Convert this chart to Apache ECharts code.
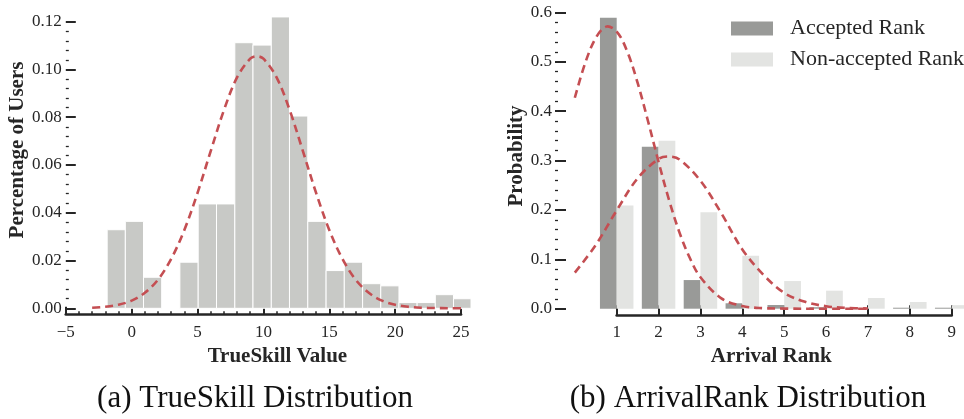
<!DOCTYPE html>
<html><head><meta charset="utf-8">
<script src="https://cdn.jsdelivr.net/npm/echarts@6/dist/echarts.min.js"></script>
<style>html,body{margin:0;padding:0;background:#fff}#c{width:964px;height:419px}</style>
</head><body><div id="c"></div>
<script>
// ---- (a) TrueSkill histogram ----
const tsEdges = [-1.86, -0.48, 0.90, 2.28, 3.66, 5.05, 6.44, 7.83, 9.21, 10.60, 11.98,
                 13.37, 14.76, 16.14, 17.53, 18.91, 20.29, 21.67, 23.05, 24.43, 25.76];
const tsShare = [0.0329, 0.0364, 0.0130, 0.0000, 0.0193, 0.0437, 0.0437, 0.1112, 0.1102, 0.1220,
                 0.0805, 0.0364, 0.0158, 0.0193, 0.0103, 0.0094, 0.0024, 0.0024, 0.0057, 0.0040];
const tsFitX = [-3, -2, -1, 0, 1, 2, 3, 4, 5, 6, 7, 8, 9, 9.5, 10, 11, 12, 13, 14, 15, 16, 17, 18, 19, 20, 21, 22, 23, 24, 25];
const tsFitY = [0.00025, 0.00064, 0.0015, 0.0032, 0.0065, 0.0120, 0.0207, 0.0328, 0.0483, 0.0658,
                0.0829, 0.0967, 0.1045, 0.1055, 0.1045, 0.0967, 0.0829, 0.0658, 0.0483, 0.0328,
                0.0207, 0.0120, 0.0065, 0.0032, 0.0015, 0.00064, 0.00025, 0.0001, 0.00003, 0.00001];
const tsTicks = [-5, 0, 5, 10, 15, 20, 25];
const shareTicks = [0, 0.02, 0.04, 0.06, 0.08, 0.10, 0.12];

// ---- (b) Arrival rank ----
const ranks = [1, 2, 3, 4, 5, 6, 7, 8, 9];
const acceptedProb = [0.589, 0.328, 0.058, 0.011, 0.0075, 0.003, 0.001, 0.002, 0.002];
const nonAcceptedProb = [0.209, 0.340, 0.195, 0.107, 0.056, 0.0365, 0.0217, 0.0136, 0.0072];
const accFitX = [0, 0.25, 0.5, 0.75, 1, 1.25, 1.5, 1.75, 2, 2.25, 2.5, 2.75, 3, 3.5, 4, 4.5, 5, 6, 7];
const accFitY = [0.427, 0.498, 0.548, 0.571, 0.561, 0.521, 0.457, 0.379, 0.297, 0.220, 0.154, 0.102,
                 0.0637, 0.021, 0.0055, 0.0011, 0.0002, 0, 0];
const nonFitX = [0, 0.5, 1, 1.5, 2, 2.25, 2.5, 3, 3.5, 4, 4.5, 5, 5.5, 6, 6.5, 7];
const nonFitY = [0.073, 0.129, 0.199, 0.264, 0.303, 0.308, 0.302, 0.259, 0.193, 0.120, 0.069, 0.032,
                 0.0139, 0.005, 0.0016, 0.0004];
const probTicks = [0, 0.1, 0.2, 0.3, 0.4, 0.5, 0.6];

const seriesNames = ['Accepted Rank', 'Non-accepted Rank'];
const captions = ['(a) TrueSkill Distribution', '(b) ArrivalRank Distribution'];

// ---- styles ----
const FONT = 'Liberation Serif';
const INK = '#262626';
const RED = '#c44e52';
const HIST = '#c8c9c6';
const DARK = '#999a98';
const LIGHT = '#e3e4e2';

const zip = (a, b) => a.map((v, i) => [v, b[i]]);
const minus = s => String(s).replace('-', '\u2212');

function axisBase() {
  return {
    axisLine: { show: true, onZero: false, lineStyle: { color: INK, width: 2.7 } },
    axisTick: { show: true, inside: true, length: 8, lineStyle: { color: INK, width: 2 } },
    axisLabel: { color: INK, fontFamily: FONT, fontSize: 17 },
    splitLine: { show: false },
    nameTextStyle: { color: INK, fontFamily: FONT, fontSize: 21, fontWeight: 'bold' }
  };
}

// dashed fitted curve drawn through the axis scales (api.coord), not clipped to the grid
function curveSeries(xi, yi, xs, ys) {
  return {
    type: 'custom', xAxisIndex: xi, yAxisIndex: yi, clip: false, z: 5, silent: true,
    data: zip(xs, ys), encode: { x: 0, y: 1 },
    renderItem: (params, api) => {
      if (params.dataIndex !== 0) return null;
      const pts = xs.map((x, i) => api.coord([x, ys[i]]));
      return { type: 'polyline', shape: { points: pts, smooth: 0.35 },
               style: { stroke: RED, lineWidth: 2.6, lineDash: [8, 5], fill: null } };
    }
  };
}

const histData = tsShare.map((h, i) => [tsEdges[i], tsEdges[i + 1], h]);

const chart = echarts.init(document.getElementById('c'), null, { renderer: 'canvas' });
chart.setOption({
  animation: false,
  backgroundColor: '#fff',
  grid: [
    { left: 65.8, right: 503, top: 21.7, bottom: 110.7 },
    { left: 616.7, right: 12.3, top: 12.3, bottom: 110.3 }
  ],
  legend: {
    data: seriesNames.map(n => ({ name: n, icon: 'rect' })),
    orient: 'vertical', left: 731, top: 17.5, padding: 0,
    itemWidth: 42, itemHeight: 14, itemGap: 9, selectedMode: false,
    textStyle: { fontFamily: FONT, fontSize: 22, color: INK, lineHeight: 21, padding: [0, 0, 0, 12] }
  },
  xAxis: [
    Object.assign(axisBase(), {
      gridIndex: 0, type: 'value', min: tsTicks[0], max: tsTicks[tsTicks.length - 1],
      interval: tsTicks[1] - tsTicks[0], offset: 6.4,
      minorTick: { show: true, splitNumber: 5, length: 3.5, lineStyle: { color: INK, width: 1.5 } },
      axisLabel: { color: INK, fontFamily: FONT, fontSize: 17, margin: 9, formatter: v => minus(v) },
      name: 'TrueSkill Value', nameLocation: 'middle', nameGap: 29,
      nameTextStyle: { color: INK, fontFamily: FONT, fontSize: 21, fontWeight: 'bold', padding: [0, 0, 0, 28] }
    }),
    Object.assign(axisBase(), {
      gridIndex: 1, type: 'value', min: ranks[0], max: ranks[ranks.length - 1], interval: 1, offset: 6.6,
      axisTick: { show: true, inside: true, length: 10, lineStyle: { color: INK, width: 2 } },
      axisLabel: { color: INK, fontFamily: FONT, fontSize: 17, margin: 9 },
      name: 'Arrival Rank', nameLocation: 'middle', nameGap: 29,
      nameTextStyle: { color: INK, fontFamily: FONT, fontSize: 21, fontWeight: 'bold', padding: [0, 26, 0, 0] }
    })
  ],
  yAxis: [
    Object.assign(axisBase(), {
      gridIndex: 0, type: 'value', min: shareTicks[0], max: shareTicks[shareTicks.length - 1],
      interval: shareTicks[1] - shareTicks[0],
      axisLine: { show: false, onZero: false },
      axisTick: { show: true, inside: true, length: 10, lineStyle: { color: INK, width: 2 } },
      minorTick: { show: true, splitNumber: 5, length: 3, lineStyle: { color: INK, width: 1.3 } },
      axisLabel: { color: INK, fontFamily: FONT, fontSize: 17, margin: 4, formatter: v => v.toFixed(2) },
      name: 'Percentage of Users', nameLocation: 'middle', nameGap: 37, nameRotate: 90,
      nameTextStyle: { color: INK, fontFamily: FONT, fontSize: 21, fontWeight: 'bold', padding: [0, 0, 0, 30] }
    }),
    Object.assign(axisBase(), {
      gridIndex: 1, type: 'value', min: probTicks[0], max: probTicks[probTicks.length - 1],
      interval: probTicks[1] - probTicks[0], offset: 61.7,
      axisLine: { show: false, onZero: false },
      axisTick: { show: true, inside: true, length: 11, lineStyle: { color: INK, width: 2 } },
      minorTick: { show: true, splitNumber: 5, length: 3, lineStyle: { color: INK, width: 1.3 } },
      axisLabel: { color: INK, fontFamily: FONT, fontSize: 17, margin: 3, formatter: v => v.toFixed(1) },
      name: 'Probability', nameLocation: 'middle', nameGap: 28, nameRotate: 90,
      nameTextStyle: { color: INK, fontFamily: FONT, fontSize: 21, fontWeight: 'bold', padding: [0, 0, 0, 9] }
    })
  ],
  series: [
    {
      type: 'custom', xAxisIndex: 0, yAxisIndex: 0, clip: false, z: 2,
      data: histData, encode: { x: [0, 1], y: 2 },
      renderItem: (params, api) => {
        const p0 = api.coord([api.value(0), api.value(2)]);
        const p1 = api.coord([api.value(1), 0]);
        return { type: 'rect', shape: { x: p0[0], y: p0[1], width: p1[0] - p0[0], height: p1[1] - p0[1] },
                 style: { fill: HIST, stroke: '#fff', lineWidth: 1 } };
      }
    },
    curveSeries(0, 0, tsFitX, tsFitY),
    {
      name: seriesNames[0], type: 'custom', xAxisIndex: 1, yAxisIndex: 1, clip: false, z: 2,
      itemStyle: { color: DARK },
      data: zip(ranks, acceptedProb), encode: { x: 0, y: 1 },
      renderItem: (params, api) => {
        const p0 = api.coord([api.value(0) - 0.4, api.value(1)]);
        const p1 = api.coord([api.value(0), 0]);
        return { type: 'rect', shape: { x: p0[0], y: p0[1], width: p1[0] - p0[0], height: Math.max(p1[1] - p0[1], 1) },
                 style: { fill: DARK } };
      }
    },
    {
      name: seriesNames[1], type: 'custom', xAxisIndex: 1, yAxisIndex: 1, clip: false, z: 2,
      itemStyle: { color: LIGHT },
      data: zip(ranks, nonAcceptedProb), encode: { x: 0, y: 1 },
      renderItem: (params, api) => {
        const p0 = api.coord([api.value(0), api.value(1)]);
        const p1 = api.coord([api.value(0) + 0.4, 0]);
        return { type: 'rect', shape: { x: p0[0], y: p0[1], width: p1[0] - p0[0], height: p1[1] - p0[1] },
                 style: { fill: LIGHT } };
      }
    },
    curveSeries(1, 1, accFitX, accFitY),
    curveSeries(1, 1, nonFitX, nonFitY)
  ],
  graphic: [
    { type: 'text', x: 255, y: 399, style: { text: captions[0], fill: '#111', font: '31px "Liberation Serif"', textAlign: 'center', textVerticalAlign: 'middle' } },
    { type: 'text', x: 748, y: 399, style: { text: captions[1], fill: '#111', font: '31px "Liberation Serif"', textAlign: 'center', textVerticalAlign: 'middle' } }
  ]
});
</script>
</body></html>
